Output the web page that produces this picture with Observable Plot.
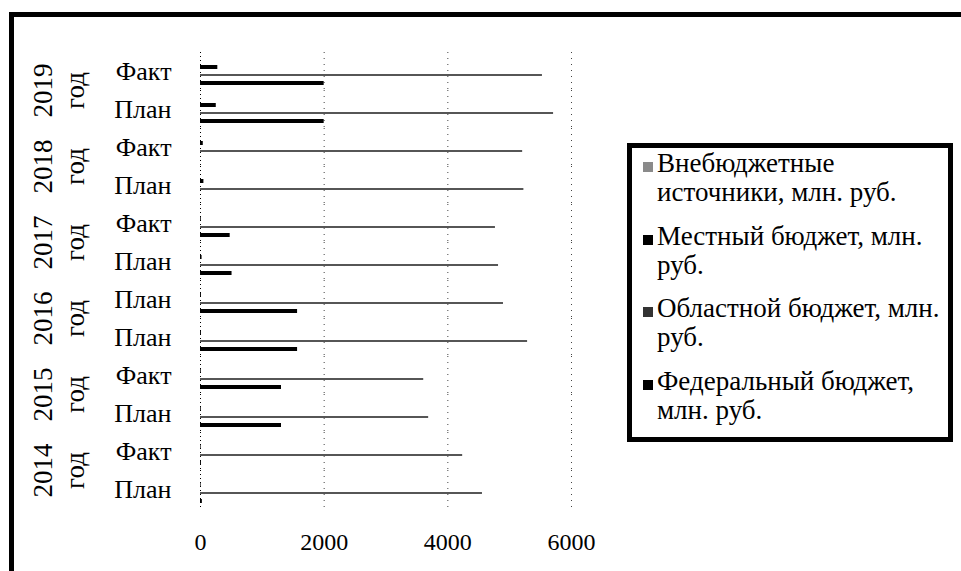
<!DOCTYPE html>
<html><head><meta charset="utf-8">
<script src="https://cdn.jsdelivr.net/npm/d3@7"></script>
<script src="https://cdn.jsdelivr.net/npm/@observablehq/plot@0.6"></script>
<style>
body{margin:0;background:#fff;}
#wrap{position:relative;width:961px;height:571px;overflow:hidden;font-family:"Liberation Serif","Times New Roman",serif;color:#000;}
#frame{position:absolute;left:9px;top:12px;width:1000px;height:620px;border-left:5px solid #000;border-top:5px solid #000;}
#chart{position:absolute;left:0;top:0;}
#legend{position:absolute;left:627px;top:143px;width:316px;height:289px;border:5px solid #000;background:#fff;}
.item{position:absolute;left:0;width:310px;}
.mk{position:absolute;left:11px;top:13px;width:10px;height:10px;}
.tx{position:absolute;left:25px;width:291px;font-size:27px;line-height:29px;}
</style></head>
<body>
<div id="wrap">
  <div id="frame"></div>
  <div id="chart"></div>
  <div id="legend"></div>
</div>
<script>
// Categories (top to bottom)
const catYears = ["2019","2019","2018","2018","2017","2017","2016","2016","2015","2015","2014","2014"];
const catKinds = ["Факт","План","Факт","План","Факт","План","План","План","Факт","План","Факт","План"];
const yearLabels = ["2019","2018","2017","2016","2015","2014"];
const yearWord = "год";
// Series (legend order = top to bottom inside each group)
const series = ["Внебюджетные источники, млн. руб.", "Местный бюджет, млн. руб.", "Областной бюджет, млн. руб.", "Федеральный бюджет, млн. руб."];
const vneb = [0, 0, 0, 0, 0, 0, 0, 0, 0, 0, 0, 0];
const mest = [280, 255, 45, 55, 12, 25, 15, 15, 12, 12, 10, 10];
const obl  = [5530, 5710, 5210, 5230, 4770, 4820, 4900, 5290, 3610, 3690, 4240, 4560];
const fed  = [2000, 2000, 0, 0, 480, 510, 1570, 1570, 1310, 1310, 15, 30];
const xTicks = [0, 2000, 4000, 6000];

const seriesValues = [vneb, mest, obl, fed];
const rows = [];
catKinds.forEach((k, i) => {
  series.forEach((s, j) => rows.push({cat: i, series: s, value: seriesValues[j][i]}));
});
const yearRows = yearLabels.map((y, j) => ({cat: 2 * j, year: y}));

const chart = Plot.plot({
  width: 961, height: 571,
  marginLeft: 200, marginRight: 390, marginTop: 46, marginBottom: 58,
  style: {fontFamily: '"Liberation Serif", "Times New Roman", serif', fontSize: "24px", color: "#000", background: "transparent"},
  x: {domain: [0, 6000], axis: null, label: null},
  fy: {domain: d3.range(12), padding: 0, axis: null, label: null},
  y: {domain: series, paddingInner: 0.5, paddingOuter: 0.4, axis: null, label: null},
  color: {domain: series, range: ["#777", "#000", "#555", "#000"]},
  marks: [
    Plot.ruleX(xTicks.slice(1), {stroke: "#444", strokeDasharray: "1,5"}),
    Plot.ruleX([0], {stroke: "#000", strokeDasharray: "1,3"}),
    Plot.barX(rows.filter(d => d.series !== series[2]), {x: "value", y: "series", fy: "cat", fill: "series"}),
    Plot.barX(rows.filter(d => d.series === series[2]), {x: "value", y: "series", fy: "cat", fill: "#444", insetTop: 1.1, insetBottom: 1.1}),
    Plot.axisX({ticks: xTicks, tickSize: 0, tickPadding: 24, tickFormat: d => String(d), fontSize: 24, label: null}),
    Plot.axisFy({anchor: "left", tickSize: 0, tickPadding: 29, tickFormat: i => catKinds[i], fontSize: 26, label: null}),
    Plot.text(yearRows, {fy: "cat", text: "year", frameAnchor: "bottom-left", textAnchor: "middle", lineAnchor: "middle", rotate: -90, dx: -157, fontSize: 27}),
    Plot.text(yearRows, {fy: "cat", text: () => yearWord, frameAnchor: "bottom-left", textAnchor: "middle", lineAnchor: "middle", rotate: -90, dx: -125, fontSize: 27})
  ]
});
document.getElementById("chart").appendChild(chart);

// Legend
const markerColors = ["#8a8a8a", "#000", "#333", "#000"];
const legend = document.getElementById("legend");
series.forEach((s, i) => {
  const it = document.createElement("div");
  it.className = "item";
  it.style.top = (1.4 + i * 72.5) + "px";
  const mk = document.createElement("div");
  mk.className = "mk";
  mk.style.background = markerColors[i];
  const tx = document.createElement("div");
  tx.className = "tx";
  tx.textContent = s;
  it.appendChild(mk); it.appendChild(tx);
  legend.appendChild(it);
});
</script>
</body></html>
